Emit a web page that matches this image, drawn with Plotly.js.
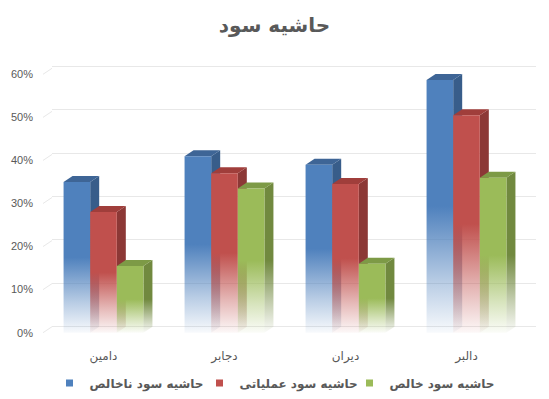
<!DOCTYPE html>
<html>
<head>
<meta charset="utf-8">
<script src="https://cdn.plot.ly/plotly-3.0.1.min.js"></script>
<style>html,body{margin:0;padding:0;background:#fff;}#chart{width:549px;height:399px;}</style>
</head>
<body>
<div id="chart"></div>
<script>
// ---- data ----
const categories = ['دامین', 'دجابر', 'دیران', 'دالبر'];
const seriesNames = ['حاشیه سود ناخالص', 'حاشیه سود عملیاتی', 'حاشیه سود خالص'];
const grossMargin = [0.35, 0.41, 0.39, 0.587];
const operatingMargin = [0.28, 0.37, 0.345, 0.505];
const netMargin = [0.155, 0.335, 0.16, 0.36];
const yTickValues = [0, 0.1, 0.2, 0.3, 0.4, 0.5, 0.6];

// ---- styling ----
const frontRGB = ['79,129,189', '192,80,77', '155,187,89'];
const sideRGB = ['56,93,138', '140,56,54', '113,137,63'];
const topRGB = ['62,101,150', '160,62,59', '125,154,70'];
const textColor = '#595959';
const gridColor = '#E8E8E8';
const arabicFont = 'DejaVu Sans, sans-serif';

const W = 549, H = 399;
const M = {l: 43, r: 13, t: 60, b: 54};
const plotW = W - M.l - M.r;          // 493
const depthPx = 9, risePx = 6;        // 3-D offset in pixels
const frontW = plotW - depthPx;       // 484
const xRange = [-0.5, categories.length - 0.5];
const pxPerX = frontW / (xRange[1] - xRange[0]);
const yFrontRange = [-0.02856, 0.6332];
const yBackRange = [-0.0422, 0.6145];
const plotH = H - M.t - M.b;
const pxPerY = plotH / (yFrontRange[1] - yFrontRange[0]);
const dx = depthPx / pxPerX;
const dy = risePx / pxPerY;

const barW = 0.22;
const series = [grossMargin, operatingMargin, netMargin];
const rgba = (c, a) => 'rgba(' + c + ',' + a + ')';

const traces = [];

// side-wall grid segments (left wall), from tick values
const wallX = [], wallY = [];
yTickValues.forEach(t => {
  wallX.push(xRange[0], xRange[0] + dx, null);
  wallY.push(t, t + dy, null);
});
traces.push({x: wallX, y: wallY, xaxis: 'x2', yaxis: 'y2', mode: 'lines',
  line: {color: gridColor, width: 1}, showlegend: false, hoverinfo: 'skip'});

categories.forEach((cat, ci) => {
  series.forEach((vals, si) => {
    const v = vals[ci];
    const cx = ci + (si - 1) * barW;
    const xl = cx - barW / 2, xr = cx + barW / 2;
    // side face
    traces.push({
      x: [xr, xr + dx, xr + dx, xr, xr], y: [0, dy, v + dy, v, 0],
      xaxis: 'x2', yaxis: 'y2', mode: 'lines', fill: 'toself',
      line: {width: 0, color: 'rgba(0,0,0,0)'},
      fillgradient: {type: 'vertical', start: 0, stop: v * 0.5,
        colorscale: [[0, rgba(sideRGB[si], 0.03)], [0.4, rgba(sideRGB[si], 0.4)], [1, rgba(sideRGB[si], 1)]]},
      showlegend: false, hoverinfo: 'skip'
    });
    // top face
    traces.push({
      x: [xl, xl + dx, xr + dx, xr, xl], y: [v, v + dy, v + dy, v, v],
      xaxis: 'x2', yaxis: 'y2', mode: 'lines', fill: 'toself',
      fillcolor: rgba(topRGB[si], 1),
      line: {width: 0, color: 'rgba(0,0,0,0)'},
      showlegend: false, hoverinfo: 'skip'
    });
    // front face
    traces.push({
      x: [xl, xr, xr, xl, xl], y: [0, 0, v, v, 0],
      xaxis: 'x2', yaxis: 'y2', mode: 'lines', fill: 'toself',
      line: {width: 0, color: 'rgba(0,0,0,0)'},
      fillgradient: {type: 'vertical', start: 0, stop: v * 0.5,
        colorscale: [[0, rgba(frontRGB[si], 0.04)], [0.4, rgba(frontRGB[si], 0.4)], [1, rgba(frontRGB[si], 1)]]},
      showlegend: false, hoverinfo: 'skip'
    });
  });
});

// legend entries (on back subplot so it is created)
seriesNames.forEach((name, si) => {
  traces.push({x: [null], y: [null], xaxis: 'x', yaxis: 'y', mode: 'markers', name: name,
    marker: {symbol: 'square', size: 7, color: rgba(frontRGB[si], 1)}, hoverinfo: 'skip'});
});

const layout = {
  width: W, height: H,
  margin: M,
  paper_bgcolor: '#fff', plot_bgcolor: 'rgba(0,0,0,0)',
  showlegend: true,
  hovermode: false,
  title: {text: 'حاشیه سود', x: 0.5, xref: 'container', xanchor: 'center',
    y: 1 - 25 / H, yref: 'container', yanchor: 'middle',
    font: {family: arabicFont, size: 20, weight: 'bold', color: textColor}},
  // back wall (gridlines)
  xaxis: {domain: [depthPx / plotW, 1], range: xRange, showgrid: false, zeroline: false,
    showticklabels: false, showline: false, ticks: '', fixedrange: true},
  yaxis: {anchor: 'x', range: yBackRange, tickvals: yTickValues,
    showgrid: true, gridcolor: gridColor, gridwidth: 1, zeroline: false, showticklabels: false,
    ticks: '', showline: false, fixedrange: true},
  // front plane (bars, labels)
  xaxis2: {domain: [0, frontW / plotW], anchor: 'y2', range: xRange, tickvals: categories.map((c, i) => i),
    ticktext: categories, showgrid: false, zeroline: false, showline: false, ticks: '',
    tickfont: {family: arabicFont, size: 12, color: textColor}, ticklabelstandoff: 2, fixedrange: true},
  yaxis2: {anchor: 'x2', range: yFrontRange, tickvals: yTickValues, tickformat: '.0%',
    showgrid: false, zeroline: false, showline: false, ticks: '', ticklabelstandoff: 9,
    tickfont: {family: 'Liberation Sans, Arial, sans-serif', size: 11, color: textColor}, fixedrange: true},
  legend: {orientation: 'h', x: 0.5, xref: 'container', xanchor: 'center',
    y: 16 / H, yref: 'container', yanchor: 'middle',
    font: {family: arabicFont, size: 12, weight: 'bold', color: textColor},
    itemwidth: 30, tracegroupgap: 0, entrywidth: 105, entrywidthmode: 'pixels'}
};

Plotly.newPlot('chart', traces, layout, {displayModeBar: false, staticPlot: true});
</script>
</body>
</html>
